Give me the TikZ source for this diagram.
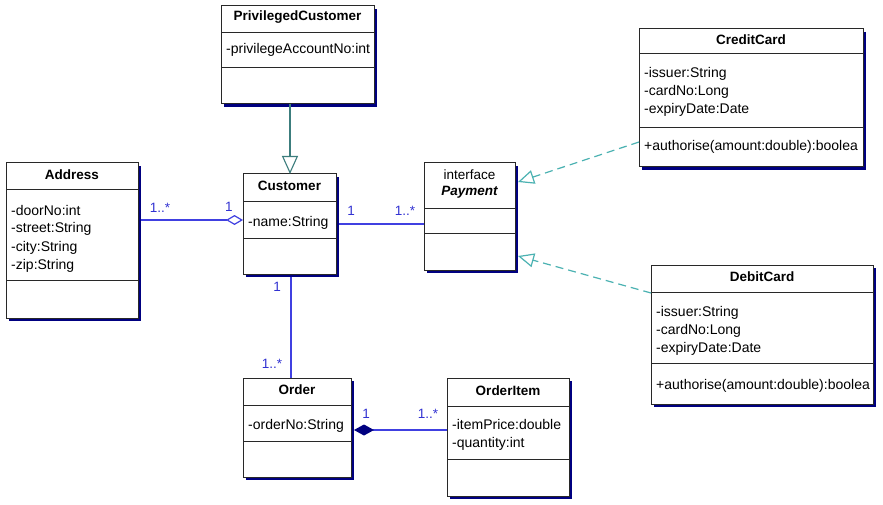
\documentclass[tikz,border=0pt]{standalone}
\usepackage{fontspec}
\setmainfont{Liberation Sans}
\usetikzlibrary{arrows.meta,calc,shadows}

\definecolor{shadowblue}{RGB}{0,0,128}
\definecolor{assocblue}{RGB}{64,64,225}
\definecolor{labelblue}{RGB}{50,50,210}
\definecolor{genteal}{RGB}{60,125,125}
\definecolor{realteal}{RGB}{75,178,178}
\definecolor{boxline}{RGB}{40,40,40}

\tikzset{
  classbox/.style={draw=boxline, line width=1pt, fill=white, anchor=north west,
    inner sep=0pt, outer sep=0pt,
    drop shadow={shadow xshift=3pt, shadow yshift=-3pt, fill=shadowblue, opacity=1}},
  compsep/.style={draw=boxline, line width=0.9pt},
  classtitle/.style={font=\fontsize{13.5}{16}\selectfont\bfseries, inner sep=0pt},
  member/.style={font=\fontsize{14}{17}\selectfont, anchor=west, inner sep=0pt,
    text height=10pt, text depth=3pt, yshift=-1.5pt},
  mult/.style={font=\fontsize{13.5}{16}\selectfont, text=labelblue, inner sep=0pt},
  assoc/.style={draw=assocblue, line width=1.2pt},
  generalize/.style={draw=genteal, line width=1.1pt,
    -{Triangle[open, length=18pt, width=16pt]}},
  realize/.style={draw=realteal, line width=1.2pt, dash pattern=on 8pt off 5pt,
    -{Triangle[open, length=16pt, width=14pt]}},
}

% name, x, y, width, height, first separator, second separator, title
\newcommand\umlbox[8]{%
  \node[classbox, minimum width=#4pt, minimum height=#5pt] (#1) at (#2,#3) {};
  \draw[compsep] ($(#1.north west)+(0,#6)$) -- ($(#1.north east)+(0,#6)$);
  \draw[compsep] ($(#1.north west)+(0,#7)$) -- ($(#1.north east)+(0,#7)$);
  \node[classtitle] at ($(#1.north)+(0,#6/2-1.5)$) {#8};
}

\begin{document}
\begin{tikzpicture}[x=1pt, y=-1pt]
  \fill[white] (0,0) rectangle (883,505);
  \useasboundingbox (0,0) rectangle (883,505);

  % classes
  \umlbox{privileged}{221}{6}{153}{98}{26}{61}{PrivilegedCustomer}
  \node[member] at ($(privileged.north west)+(5,43)$) {-privilegeAccountNo:int};

  \umlbox{address}{6}{163}{132}{155}{26}{117}{Address}
  \node[member] at ($(address.north west)+(5,47)$) {-doorNo:int};
  \node[member] at ($(address.north west)+(5,65)$) {-street:String};
  \node[member] at ($(address.north west)+(5,83)$) {-city:String};
  \node[member] at ($(address.north west)+(5,101)$) {-zip:String};

  \umlbox{customer}{243}{174}{93}{100}{27}{64}{Customer}
  \node[member] at ($(customer.north west)+(5,47)$) {-name:String};

  \umlbox{payment}{424}{163}{91}{107}{45}{70}{}
  \node[font=\fontsize{13.5}{16}\selectfont, inner sep=0pt]
    at ($(payment.north)+(0,12)$) {interface};
  \node[classtitle, font=\fontsize{13.5}{16}\selectfont\bfseries\itshape]
    at ($(payment.north)+(0,29)$) {Payment};

  \umlbox{credit}{639}{29}{224}{138}{24}{98}{CreditCard}
  \node[member] at ($(credit.north west)+(5,44)$) {-issuer:String};
  \node[member] at ($(credit.north west)+(5,62)$) {-cardNo:Long};
  \node[member] at ($(credit.north west)+(5,80)$) {-expiryDate:Date};
  \node[member] at ($(credit.north west)+(5,117)$) {+authorise(amount:double):boolea};

  \umlbox{debit}{651}{265}{222}{139}{27}{98}{DebitCard}
  \node[member] at ($(debit.north west)+(5,46)$) {-issuer:String};
  \node[member] at ($(debit.north west)+(5,64)$) {-cardNo:Long};
  \node[member] at ($(debit.north west)+(5,82)$) {-expiryDate:Date};
  \node[member] at ($(debit.north west)+(5,119)$) {+authorise(amount:double):boolea};

  \umlbox{order}{243}{378}{108}{99}{27}{63}{Order}
  \node[member] at ($(order.north west)+(5,46)$) {-orderNo:String};

  \umlbox{orderitem}{447}{378}{122}{118}{28}{81}{OrderItem}
  \node[member] at ($(orderitem.north west)+(5,46)$) {-itemPrice:double};
  \node[member] at ($(orderitem.north west)+(5,64)$) {-quantity:int};

  % connector ports
  \coordinate (aggport) at ($(customer.north west)+(0,46)$);
  \coordinate (compport) at ($(order.north east)+(0,52)$);
  \coordinate (ccport) at ($(credit.south west)+(0,-25)$);
  \coordinate (dcport) at ($(debit.north west)+(0,28)$);
  \coordinate (payup) at ($(payment.north east)+(3,19)$);
  \coordinate (paydown) at ($(payment.south east)+(3,-14)$);
  \coordinate (orderport) at ($(customer.south)+(1.5,3)$);
  \coordinate (inherit) at ($(customer.north)+(0.5,0)$);

  % inheritance and realisation
  \draw[generalize] (privileged.south -| inherit) -- (inherit);
  \draw[realize] (ccport) -- (payup);
  \draw[realize] (dcport) -- (paydown);

  % associations
  \draw[assoc, -{Diamond[open, length=17pt, width=10pt]}]
    ($(address.east |- aggport)+(3,0)$) -- (aggport);
  \draw[assoc] ($(customer.east)+(3,0)$) -- (customer.east -| payment.west);
  \draw[assoc] (orderport) -- (orderport |- order.north);
  \draw[assoc, {Diamond[length=20pt, width=11pt, color=shadowblue]}-]
    ($(compport)+(3,0)$) -- (orderitem.west |- compport);

  % multiplicities
  \node[mult] at (160,208) {1..*};
  \node[mult] at (229,207) {1};
  \node[mult] at (351,211) {1};
  \node[mult] at (405,211) {1..*};
  \node[mult] at (277,287) {1};
  \node[mult] at (272,364) {1..*};
  \node[mult] at (366,414) {1};
  \node[mult] at (428,414) {1..*};
\end{tikzpicture}
\end{document}
